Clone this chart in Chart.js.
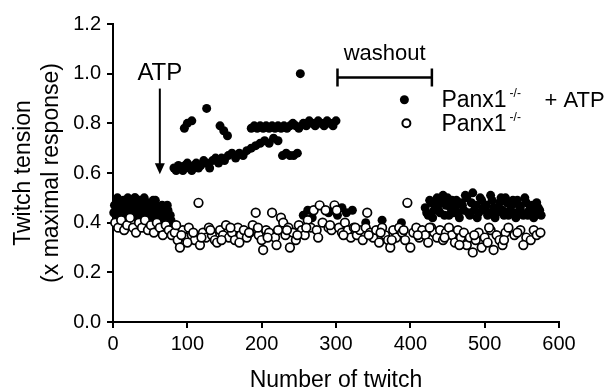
<!DOCTYPE html>
<html>
<head>
<meta charset="utf-8">
<script src="https://cdn.jsdelivr.net/npm/chart.js@4.4.1/dist/chart.umd.min.js"></script>
<style>
  html, body { margin: 0; padding: 0; background: #fff; }
  #wrap { width: 608px; height: 392px; position: relative; }
</style>
</head>
<body>
<div id="wrap"><canvas id="chart"></canvas></div>
<script>
// Panx1-/- + ATP (filled circles)
const atpTwitch = [
  2, 4, 6, 8, 10, 12, 14, 16, 18, 20, 22, 24, 26, 28, 30, 32, 34, 36, 38, 40,
  42, 44, 46, 48, 50, 52, 54, 56, 58, 60, 62, 64, 66, 68, 70, 72, 74, 76, 78,
  1, 5, 9, 13, 17, 21, 25, 29, 33, 37, 41, 45, 49, 53, 57, 61, 65, 69, 73, 77,
  // lower branch after ATP
  82, 85, 88, 91, 94, 97, 100, 103, 106, 109, 112, 115, 118, 122, 126, 130, 134, 138, 142, 146,
  150, 155, 160, 165, 170, 175, 180, 186, 192, 198, 204, 210, 216, 222, 228, 233, 238, 243, 248,
  // upper branch after ATP
  96, 100, 106, 126, 144, 149, 154, 186, 190, 194, 198, 202, 206, 210, 214, 218, 222, 226, 230, 234,
  238, 242, 246, 250, 252, 256, 260, 264, 268, 272, 276, 280, 284, 288, 292, 296, 300,
  // coming back down
  256, 262, 268, 290, 296, 302, 308, 314, 322, 340, 362, 388,
  // after washout
  420, 424, 428, 432, 436, 440, 444, 448, 452, 456, 460, 464, 468, 472, 476, 480, 484, 488, 492, 496,
  500, 504, 508, 512, 516, 520, 524, 528, 532, 536, 540, 544, 548, 552, 556, 560, 564, 568, 572, 576,
  422, 426, 430, 434, 438, 442, 446, 450, 454, 458, 462, 466, 470, 474, 478, 482, 486, 490, 494, 498,
  502, 506, 510, 514, 518, 522, 526, 530, 534, 538, 542, 546, 550, 554, 558, 562, 566, 570, 574
];
const atpTension = [
  0.47, 0.43, 0.50, 0.45, 0.48, 0.42, 0.49, 0.46, 0.44, 0.50, 0.47, 0.43, 0.48, 0.45, 0.50, 0.42, 0.47, 0.49, 0.44, 0.46,
  0.50, 0.43, 0.48, 0.45, 0.47, 0.42, 0.49, 0.44, 0.46, 0.41, 0.45, 0.43, 0.47, 0.40, 0.44, 0.42, 0.45, 0.39, 0.41,
  0.44, 0.48, 0.41, 0.46, 0.49, 0.43, 0.45, 0.50, 0.44, 0.47, 0.42, 0.48, 0.45, 0.43, 0.49, 0.46, 0.44, 0.42, 0.47, 0.43,
  0.62, 0.61, 0.63, 0.62, 0.61, 0.63, 0.64, 0.62, 0.61, 0.63, 0.64, 0.62, 0.63, 0.65, 0.64, 0.62, 0.65, 0.66, 0.64, 0.66,
  0.65, 0.67, 0.68, 0.66, 0.68, 0.67, 0.69, 0.70, 0.71, 0.72, 0.73, 0.72, 0.74, 0.73, 0.67, 0.68, 0.67, 0.67, 0.68,
  0.78, 0.80, 0.81, 0.86, 0.79, 0.77, 0.75, 0.78, 0.79, 0.78, 0.79, 0.78, 0.79, 0.78, 0.79, 0.78, 0.79, 0.78, 0.79, 0.78,
  0.79, 0.80, 0.79, 0.78, 1.00, 0.80, 0.79, 0.81, 0.80, 0.79, 0.81, 0.80, 0.79, 0.81, 0.80, 0.79, 0.81,
  0.43, 0.45, 0.42, 0.44, 0.45, 0.43, 0.46, 0.44, 0.45, 0.40, 0.41, 0.40,
  0.46, 0.43, 0.48, 0.45, 0.50, 0.44, 0.51, 0.47, 0.43, 0.49, 0.46, 0.44, 0.48, 0.45, 0.50, 0.43, 0.52, 0.47, 0.44, 0.49,
  0.45, 0.43, 0.51, 0.46, 0.44, 0.48, 0.45, 0.50, 0.43, 0.47, 0.44, 0.49, 0.46, 0.43, 0.48, 0.45, 0.47, 0.44, 0.46, 0.43,
  0.44, 0.49, 0.42, 0.47, 0.45, 0.48, 0.43, 0.50, 0.46, 0.44, 0.49, 0.42, 0.47, 0.51, 0.44, 0.48, 0.45, 0.42, 0.50, 0.46,
  0.47, 0.44, 0.49, 0.42, 0.46, 0.50, 0.43, 0.48, 0.45, 0.49, 0.42, 0.47, 0.44, 0.50, 0.43, 0.46, 0.42, 0.48, 0.45
];

// Panx1-/- (open circles)
const ctrlTwitch = [
  3, 7, 11, 15, 19, 23, 27, 31, 35, 39, 43, 47, 51, 55, 59, 63, 67, 71, 75, 79,
  83, 87, 90, 94, 98, 102, 106, 110, 115, 117, 121, 125, 129, 133, 137, 140, 144, 148, 152, 156,
  160, 164, 168, 172, 176, 180, 184, 188, 192, 196, 200, 202, 206, 210, 214, 218, 222, 226, 229, 232,
  236, 238, 242, 246, 250, 254, 258, 262, 266, 270, 274, 278, 282, 286, 290, 294, 298, 301, 304, 308,
  312, 316, 320, 324, 328, 332, 336, 340, 342, 346, 350, 354, 358, 362, 366, 370, 373, 377, 381, 385,
  389, 393, 396, 400, 404, 408, 412, 416, 420, 424, 428, 432, 436, 440, 444, 448, 452, 456, 460, 464,
  468, 472, 476, 480, 484, 488, 492, 496, 500, 504, 508, 512, 516, 520, 524, 528, 532, 540, 548, 556,
  562, 566, 570, 575,
  85, 92, 100, 108, 119, 131, 146, 158, 170, 183, 195, 208, 220, 234, 248, 260, 276, 292, 310, 326,
  344, 360, 375, 391, 410, 426, 446, 466, 486, 506, 526, 544, 552
];
const ctrlTension = [
  0.40, 0.38, 0.41, 0.37, 0.39, 0.42, 0.38, 0.36, 0.40, 0.38, 0.41, 0.37, 0.39, 0.36, 0.40, 0.38, 0.35, 0.39, 0.37, 0.35,
  0.36, 0.33, 0.30, 0.37, 0.34, 0.38, 0.35, 0.33, 0.48, 0.31, 0.36, 0.34, 0.38, 0.35, 0.33, 0.32, 0.37, 0.35, 0.39, 0.34,
  0.36, 0.33, 0.38, 0.35, 0.37, 0.34, 0.36, 0.39, 0.44, 0.35, 0.33, 0.29, 0.37, 0.36, 0.44, 0.34, 0.37, 0.42, 0.40, 0.35,
  0.38, 0.30, 0.36, 0.33, 0.39, 0.37, 0.35, 0.41, 0.38, 0.45, 0.37, 0.47, 0.40, 0.45, 0.38, 0.37, 0.47, 0.45, 0.38, 0.36,
  0.40, 0.37, 0.34, 0.38, 0.35, 0.37, 0.33, 0.38, 0.44, 0.36, 0.34, 0.37, 0.32, 0.38, 0.35, 0.33, 0.30, 0.37, 0.34, 0.38,
  0.36, 0.33, 0.48, 0.30, 0.36, 0.38, 0.34, 0.37, 0.35, 0.32, 0.38, 0.36, 0.34, 0.37, 0.33, 0.36, 0.38, 0.35, 0.32, 0.37,
  0.34, 0.36, 0.31, 0.34, 0.28, 0.33, 0.36, 0.30, 0.34, 0.32, 0.37, 0.29, 0.35, 0.33, 0.31, 0.36, 0.38, 0.35, 0.37, 0.34,
  0.33, 0.37, 0.35, 0.36,
  0.39, 0.35, 0.32, 0.36, 0.34, 0.37, 0.33, 0.38, 0.32, 0.36, 0.38, 0.34, 0.31, 0.37, 0.35, 0.38, 0.34, 0.39, 0.35, 0.38,
  0.35, 0.36, 0.33, 0.37, 0.35, 0.38, 0.34, 0.31, 0.35, 0.38, 0.33, 0.36, 0.31
];

const xTicks = [0, 100, 200, 300, 400, 500, 600];
const yTicks = [0, 0.2, 0.4, 0.6, 0.8, 1.0, 1.2];
const seriesNames = ['Panx1', 'Panx1'];
const atpAddedAt = 63;
const washoutFrom = 302;
const washoutTo = 429;

const FONT = '"Liberation Sans", Arial, sans-serif';
Chart.defaults.font.family = FONT;
Chart.defaults.color = '#000';

const toPoints = (xs, ys) => xs.map((x, i) => ({ x: x, y: ys[i] }));

// ATP arrow, washout bar and the in-plot legend
const notesPlugin = {
  id: 'notes',
  afterDatasetsDraw(chart) {
    const { ctx } = chart;
    const x = chart.scales.x, y = chart.scales.y;
    ctx.save();
    ctx.fillStyle = '#000';
    ctx.strokeStyle = '#000';
    ctx.textAlign = 'center';
    ctx.textBaseline = 'middle';

    // ATP label + arrow
    const ax = x.getPixelForValue(atpAddedAt);
    ctx.font = '24px ' + FONT;
    ctx.fillText('ATP', ax, y.getPixelForValue(1.0));
    const top = y.getPixelForValue(0.94), tip = y.getPixelForValue(0.595);
    ctx.lineWidth = 2;
    ctx.beginPath();
    ctx.moveTo(ax, top);
    ctx.lineTo(ax, tip - 4);
    ctx.stroke();
    ctx.beginPath();
    ctx.moveTo(ax - 5, tip - 11);
    ctx.lineTo(ax + 5, tip - 11);
    ctx.lineTo(ax, tip);
    ctx.closePath();
    ctx.fill();

    // washout bar
    const w0 = x.getPixelForValue(washoutFrom), w1 = x.getPixelForValue(washoutTo);
    const wy = y.getPixelForValue(0.985);
    ctx.lineWidth = 2.5;
    ctx.beginPath();
    ctx.moveTo(w0, wy); ctx.lineTo(w1, wy);
    ctx.moveTo(w0, wy - 9); ctx.lineTo(w0, wy + 9);
    ctx.moveTo(w1, wy - 9); ctx.lineTo(w1, wy + 9);
    ctx.stroke();
    ctx.font = '22px ' + FONT;
    ctx.fillText('washout', (w0 + w1) / 2, y.getPixelForValue(1.08));

    // legend
    const lx = x.getPixelForValue(392);
    const rows = [y.getPixelForValue(0.895), y.getPixelForValue(0.8)];
    ctx.lineWidth = 2;
    ctx.beginPath();
    ctx.arc(lx, rows[0], 4.5, 0, Math.PI * 2);
    ctx.fill();
    ctx.beginPath();
    ctx.arc(lx + 2, rows[1], 4, 0, Math.PI * 2);
    ctx.fillStyle = '#fff';
    ctx.fill();
    ctx.stroke();
    ctx.fillStyle = '#000';
    ctx.textAlign = 'left';
    rows.forEach((ry, i) => {
      ctx.font = '23px ' + FONT;
      ctx.fillText(seriesNames[i], lx + 37, ry + 1);
      const w = ctx.measureText(seriesNames[i]).width;
      ctx.font = '12px ' + FONT;
      ctx.fillText('-/-', lx + 40 + w, ry - 6);
      if (i === 0) {
        ctx.font = '22px ' + FONT;
        ctx.fillText('+ ATP', lx + 37 + w + 38, ry + 1);
      }
    });
    ctx.restore();
  }
};

new Chart(document.getElementById('chart'), {
  type: 'scatter',
  data: {
    datasets: [
      {
        label: seriesNames[1] + '-/-',
        data: toPoints(ctrlTwitch, ctrlTension),
        pointRadius: 4.3,
        pointBorderWidth: 1.7,
        pointBorderColor: '#000',
        pointBackgroundColor: '#fff',
        clip: false
      },
      {
        label: seriesNames[0] + '-/- + ATP',
        data: toPoints(atpTwitch, atpTension),
        pointRadius: 4.5,
        pointBorderWidth: 0,
        pointBackgroundColor: '#000',
        clip: false
      }
    ]
  },
  options: {
    responsive: true,
    maintainAspectRatio: false,
    animation: false,
    layout: { padding: { top: 24, right: 49, left: 0, bottom: 0 } },
    plugins: {
      legend: { display: false },
      tooltip: { enabled: false }
    },
    scales: {
      x: {
        type: 'linear',
        min: 0,
        max: 600,
        afterFit: (s) => { s.height = 70; },
        afterBuildTicks: (s) => { s.ticks = xTicks.map(v => ({ value: v })); },
        grid: { drawOnChartArea: false, drawTicks: true, tickLength: 6, color: '#000', lineWidth: 2 },
        border: { display: true, color: '#000', width: 2 },
        ticks: { font: { size: 20 }, padding: 4, maxRotation: 0 },
        title: {
          display: true,
          text: 'Number of twitch',
          font: { size: 23, lineHeight: 1 },
          padding: { top: 0, bottom: 0 }
        }
      },
      y: {
        min: 0,
        max: 1.2,
        afterFit: (s) => { s.width = 113; },
        afterBuildTicks: (s) => { s.ticks = yTicks.map(v => ({ value: v })); },
        grid: { drawOnChartArea: false, drawTicks: true, tickLength: 6, color: '#000', lineWidth: 2 },
        border: { display: true, color: '#000', width: 2 },
        ticks: { font: { size: 20 }, padding: 6, callback: (v) => Number(v).toFixed(1) },
        title: {
          display: true,
          text: ['Twitch tension', '(x maximal response)'],
          font: { size: 23, lineHeight: 1.2 },
          padding: { top: 10, bottom: 0 }
        }
      }
    }
  },
  plugins: [notesPlugin]
});
</script>
</body>
</html>
